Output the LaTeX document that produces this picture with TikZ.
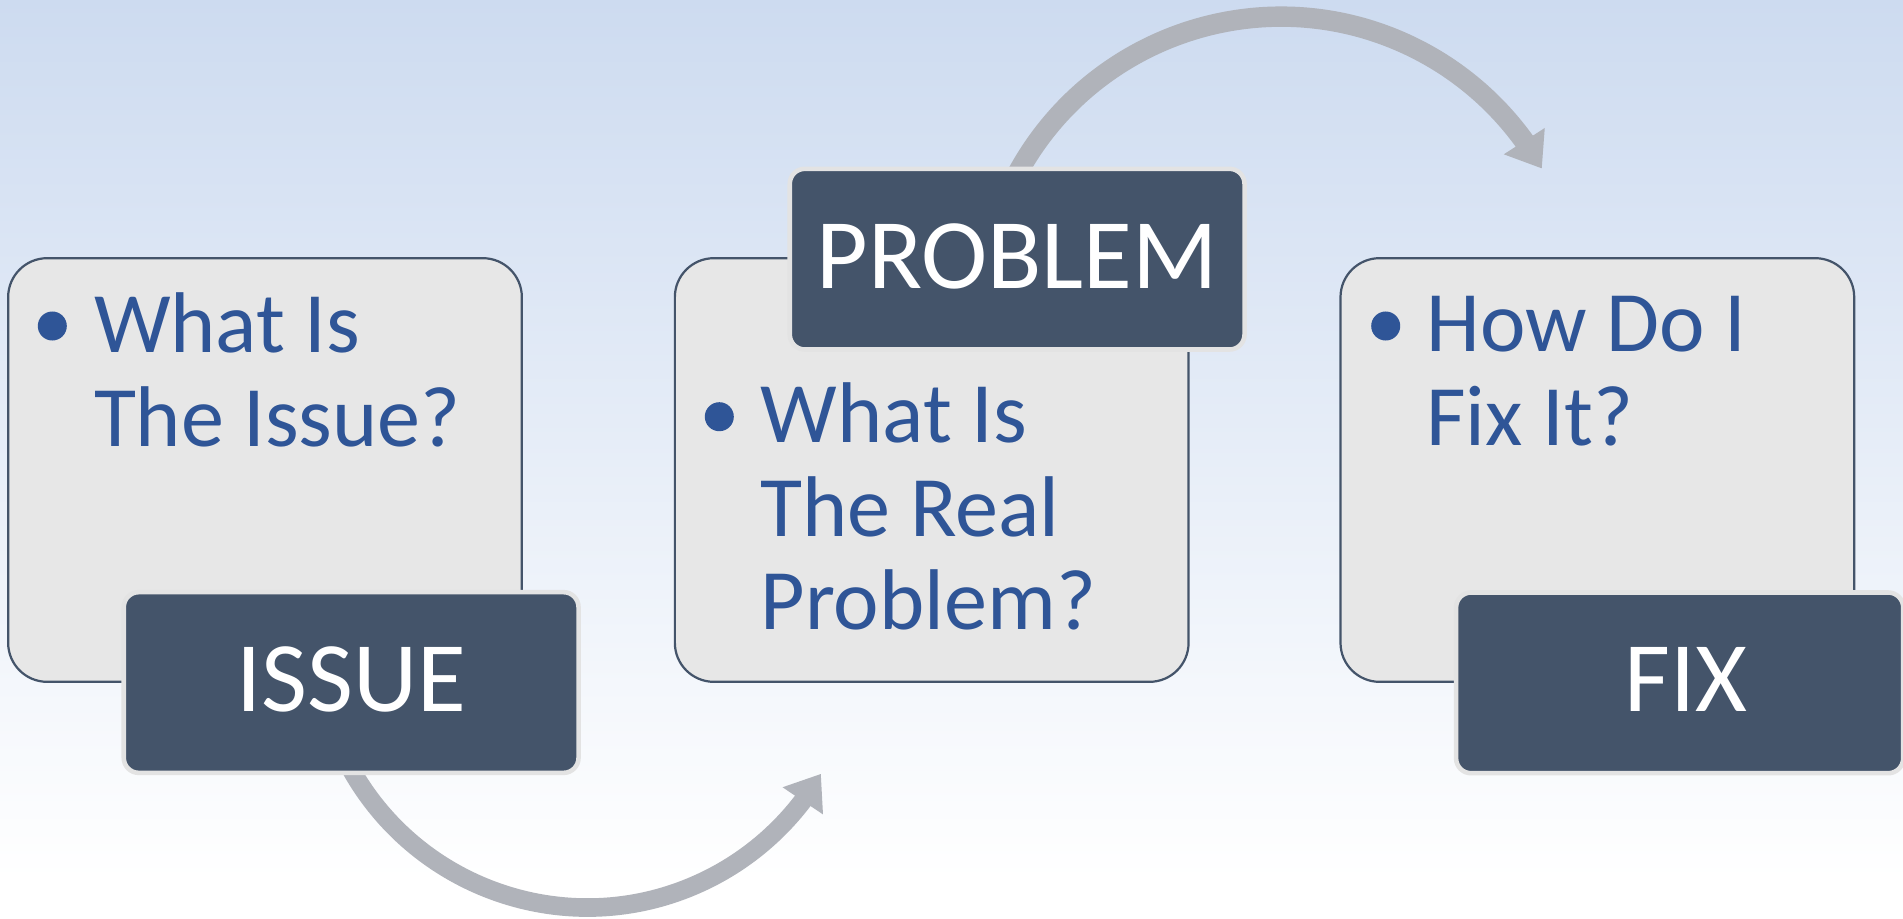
\documentclass[tikz,border=0pt]{standalone}
\usepackage{fontspec}
\setmainfont{Carlito}
\usetikzlibrary{arrows.meta,calc,bending}
\definecolor{bgtop}{RGB}{205,219,240}
\definecolor{txtblue}{RGB}{47,85,151}
\definecolor{darkbox}{RGB}{68,84,106}
\definecolor{lightbox}{RGB}{231,231,231}
\definecolor{boxline}{RGB}{68,84,106}
\definecolor{arrowgray}{RGB}{176,179,186}
\definecolor{halo}{RGB}{227,227,227}
\pgfdeclarelayer{bg}
\pgfdeclarelayer{arr}
\pgfsetlayers{bg,arr,main}
\begin{document}
\begin{tikzpicture}[x=0.01cm,y=0.01cm,
  qbox/.style={draw=boxline, line width=0.63pt, fill=lightbox, rounded corners=0.39cm,
    minimum width=5.134cm, minimum height=4.234cm, inner sep=0pt},
  tagbox/.style={draw=halo, line width=1.3pt, fill=darkbox, rounded corners=0.15cm,
    minimum width=4.545cm, minimum height=1.806cm, inner sep=0pt, text=white,
    text depth=0.06cm, font=\fontsize{28.4}{30}\selectfont},
  qtext/.style={anchor=base west, inner sep=0pt, text=txtblue,
    font=\fontsize{24.5}{26.6}\selectfont},
  dot/.style={circle, fill=txtblue, minimum size=0.29cm, inner sep=0pt},
  flow/.style={draw=arrowgray, -{Triangle[length=9.25pt,width=13.2pt,flex]}}]

\useasboundingbox (0,0) rectangle (1903,-918);
\begin{pgfonlayer}{bg}
  \shade[top color=bgtop, bottom color=white] (0,0) rectangle (1903,-880);
  \fill[white] (0,-879) rectangle (1903,-918);
\end{pgfonlayer}

% question boxes
\node[qbox] (issueq)   at (265,-470)     {};
\node[qbox] (problemq) at (931.7,-470)   {};
\node[qbox] (fixq)     at (1597.35,-470) {};

\node[dot] (d1) at (52.3,-326)   {};
\node[qtext] (t1) at (93.3,-352.7) {\vtop{\hbox{What Is}\hbox{The Issue?}}};

\node[dot] (d2) at (719.3,-416.7) {};
\node[qtext] (t2) at (760,-442.7) {\vtop{\hbox{What Is}\hbox{The Real}\hbox{Problem?}}};

\node[dot] (d3) at (1385.7,-326) {};
\node[qtext] (t3) at (1425.7,-351.7) {\vtop{\hbox{How Do I}\hbox{Fix It?}}};

% label boxes
\node[tagbox] (issue)   at (351.15,-682.5)  {ISSUE};
\node[tagbox] (problem) at (1017.15,-259.15) {PROBLEM};
\node[tagbox, minimum width=4.469cm] (fix) at (1679.65,-682.85) {\hspace*{0.134cm}FIX};

% arrows
\coordinate (arcA) at (587.3,-636.5);
\coordinate (arcB) at (1281,-316.7);
\begin{pgfonlayer}{arr}
  \draw[flow, line width=5.3pt] ($(arcA)+(207:271)$) arc[start angle=207, end angle=329.55, radius=271];
  \draw[flow, line width=5.8pt] ($(arcB)+(153:300)$) arc[start angle=153, end angle=29.6, radius=300];
\end{pgfonlayer}
\end{tikzpicture}
\end{document}
